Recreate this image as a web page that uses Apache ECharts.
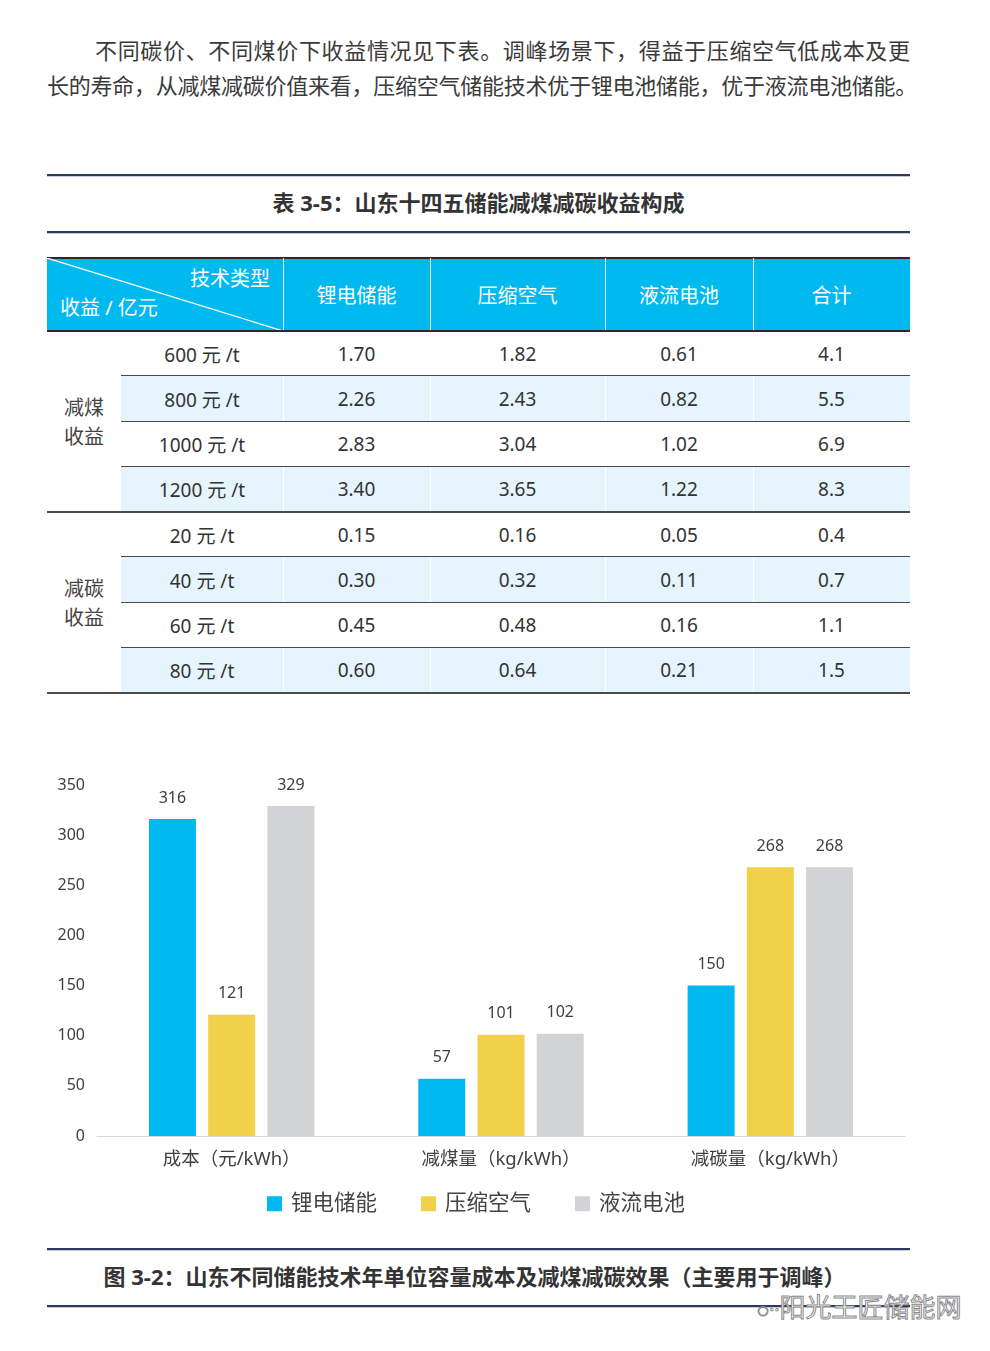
<!DOCTYPE html>
<html><head><meta charset="utf-8">
<script src="https://cdn.jsdelivr.net/npm/echarts@6/dist/echarts.min.js"></script>
<style>
html,body{margin:0;padding:0;background:#fff;}
body{width:990px;height:1351px;position:relative;overflow:hidden;font-family:"Noto Sans","Noto Sans CJK SC",sans-serif;color:#333;}
.abs{position:absolute;}
.para{position:absolute;font-size:22px;color:#3a3a3a;text-align:justify;text-align-last:justify;white-space:nowrap;line-height:30px;}
.rule{position:absolute;left:47px;width:863px;height:2px;background:#2c3b5c;box-shadow:0 1px 0 #c5cad6;}
.title{position:absolute;left:47px;width:863px;text-align:center;font-size:22px;font-weight:bold;color:#333;line-height:28px;}
.cell{position:absolute;display:flex;align-items:center;justify-content:center;font-size:19px;color:#333;}
.hcell{position:absolute;display:flex;align-items:center;justify-content:center;font-size:20px;color:#fff;}
</style></head>
<body>
<div class="para" style="left:95px;top:35px;width:815px;">不同碳价、不同煤价下收益情况见下表。调峰场景下，得益于压缩空气低成本及更</div>
<div class="para" style="left:47px;top:70px;width:865px;letter-spacing:-0.25px;">长的寿命，从减煤减碳价值来看，压缩空气储能技术优于锂电池储能，优于液流电池储能。</div>

<div class="rule" style="top:174px;"></div>
<div class="title" style="top:188px;left:47px;">表 3-5：山东十四五储能减煤减碳收益构成</div>
<div class="rule" style="top:231px;"></div>

<div id="table"></div>

<div id="chart" class="abs" style="left:0;top:760px;width:990px;height:480px;"></div>

<div class="rule" style="top:1248px;"></div>
<div class="title" style="top:1262px;left:43px;">图 3-2：山东不同储能技术年单位容量成本及减煤减碳效果（主要用于调峰）</div>
<div class="rule" style="top:1305px;"></div>
<div class="abs" style="left:757px;top:1290px;font-size:26px;color:#fff;-webkit-text-stroke:1px #8a8a8a;white-space:nowrap;line-height:34px;"><span style="font-size:20px;">◌··</span>阳光王匠储能网</div>

<script>
// ---------- table data ----------
const techTypes = ['锂电储能', '压缩空气', '液流电池', '合计'];
const coalGroupLabel = ['减煤', '收益'];
const carbonGroupLabel = ['减碳', '收益'];
const coalPrices = ['600 元 /t', '800 元 /t', '1000 元 /t', '1200 元 /t'];
const coalLithium = ['1.70', '2.26', '2.83', '3.40'];
const coalCompressed = ['1.82', '2.43', '3.04', '3.65'];
const coalFlow = ['0.61', '0.82', '1.02', '1.22'];
const coalTotal = ['4.1', '5.5', '6.9', '8.3'];
const carbonPrices = ['20 元 /t', '40 元 /t', '60 元 /t', '80 元 /t'];
const carbonLithium = ['0.15', '0.30', '0.45', '0.60'];
const carbonCompressed = ['0.16', '0.32', '0.48', '0.64'];
const carbonFlow = ['0.05', '0.11', '0.16', '0.21'];
const carbonTotal = ['0.4', '0.7', '1.1', '1.5'];

// ---------- chart data ----------
const chartCategories = ['成本（元/kWh）', '减煤量（kg/kWh）', '减碳量（kg/kWh）'];
const seriesNames = ['锂电储能', '压缩空气', '液流电池'];
const lithiumValues = [316, 57, 150];
const compressedValues = [121, 101, 268];
const flowValues = [329, 102, 268];
const yTicks = [0, 50, 100, 150, 200, 250, 300, 350];

// ---------- build table ----------
(function(){
  const root = document.getElementById('table');
  const colX = [121, 283, 430, 605, 753, 910];
  const L = 47, R = 910, headTop = 258, headBot = 331, rowH = 45.25;
  let html = '';
  html += `<div class="abs" style="left:${L}px;top:${headTop}px;width:${R-L}px;height:${headBot-headTop}px;background:#00b9ef;"></div>`;
  html += `<div class="abs" style="left:${L}px;top:${headTop-1}px;width:${R-L}px;height:1.5px;background:#2a2a2a;"></div>`;
  for (let i = 1; i < colX.length - 1; i++) {
    html += `<div class="abs" style="left:${colX[i]}px;top:${headTop}px;width:1px;height:${headBot-headTop}px;background:#e8f8ff;"></div>`;
  }
  html += `<svg class="abs" style="left:${L}px;top:${headTop}px;" width="${colX[1]-L}" height="${headBot-headTop}"><line x1="0" y1="0" x2="${colX[1]-L}" y2="${headBot-headTop}" stroke="#fff" stroke-width="1.2"/></svg>`;
  html += `<div class="abs" style="left:180px;top:266px;width:90px;text-align:right;font-size:20px;color:#fff;line-height:26px;white-space:nowrap;">技术类型</div>`;
  html += `<div class="abs" style="left:60px;top:295px;font-size:20px;color:#fff;line-height:26px;white-space:nowrap;">收益 / 亿元</div>`;
  techTypes.forEach((t, i) => {
    html += `<div class="hcell" style="left:${colX[i+1]}px;top:${headTop}px;width:${colX[i+2]-colX[i+1]}px;height:${headBot-headTop}px;">${t}</div>`;
  });
  const groups = [
    {label: coalGroupLabel, prices: coalPrices, cols: [coalLithium, coalCompressed, coalFlow, coalTotal]},
    {label: carbonGroupLabel, prices: carbonPrices, cols: [carbonLithium, carbonCompressed, carbonFlow, carbonTotal]}
  ];
  let y = headBot;
  groups.forEach((g) => {
    const gTop = y;
    g.prices.forEach((p, r) => {
      const top = y, h = rowH;
      if (r % 2 === 1) {
        html += `<div class="abs" style="left:${colX[0]}px;top:${top}px;width:${R-colX[0]}px;height:${h}px;background:#e6f5fd;"></div>`;
        for (let i = 1; i < colX.length - 1; i++) {
          html += `<div class="abs" style="left:${colX[i]}px;top:${top}px;width:1px;height:${h}px;background:#fff;"></div>`;
        }
      }
      html += `<div class="cell" style="left:${colX[0]}px;top:${top}px;width:${colX[1]-colX[0]}px;height:${h}px;">${p}</div>`;
      g.cols.forEach((c, ci) => {
        html += `<div class="cell" style="left:${colX[ci+1]}px;top:${top}px;width:${colX[ci+2]-colX[ci+1]}px;height:${h}px;">${c[r]}</div>`;
      });
      y += rowH;
      const last = r === g.prices.length - 1;
      const lx = last ? L : colX[0];
      html += `<div class="abs" style="left:${lx}px;top:${y-1}px;width:${R-lx}px;height:1.6px;background:#4a4a4a;"></div>`;
    });
    html += `<div class="abs" style="left:${L}px;top:${gTop}px;width:${colX[0]-L}px;height:${y-gTop}px;display:flex;flex-direction:column;align-items:center;justify-content:center;font-size:20px;color:#444;line-height:29px;"><div>${g.label[0]}</div><div>${g.label[1]}</div></div>`;
  });
  html += `<div class="abs" style="left:${L}px;top:${headBot-1}px;width:${R-L}px;height:1.5px;background:#2a2a2a;"></div>`;
  root.innerHTML = html;
})();

// ---------- chart ----------
const chart = echarts.init(document.getElementById('chart'), null, {renderer: 'canvas'});
const colors = ['#00b9f1', '#f2d14a', '#d2d3d5'];
const valueSets = [lithiumValues, compressedValues, flowValues];
chart.setOption({
  animation: false,
  textStyle: {fontFamily: '"Noto Sans","Noto Sans CJK SC",sans-serif'},
  grid: {left: 97, right: 85, top: 25, bottom: 104, containLabel: false},
  legend: {
    data: seriesNames, top: 428, left: 262, itemWidth: 15, itemHeight: 15, itemGap: 44,
    icon: 'rect', textStyle: {fontSize: 21.5, color: '#444', padding: [0, 0, 0, 4]}
  },
  xAxis: {
    type: 'category', data: chartCategories,
    axisLine: {lineStyle: {color: '#d9d9d9', width: 1}},
    axisTick: {show: false},
    axisLabel: {fontSize: 18.5, color: '#404040', margin: 14}
  },
  yAxis: {
    type: 'value', min: yTicks[0], max: yTicks[yTicks.length-1], interval: 50,
    axisLine: {show: false}, axisTick: {show: false}, splitLine: {show: false},
    axisLabel: {fontSize: 16, color: '#404040', margin: 12}
  },
  series: seriesNames.map((n, i) => ({
    name: n, type: 'bar', data: valueSets[i], barWidth: 47, barGap: '26%',
    itemStyle: {color: colors[i]},
    label: {show: true, position: 'top', distance: 13, fontSize: 16, color: '#404040'}
  }))
});
</script>
</body></html>
